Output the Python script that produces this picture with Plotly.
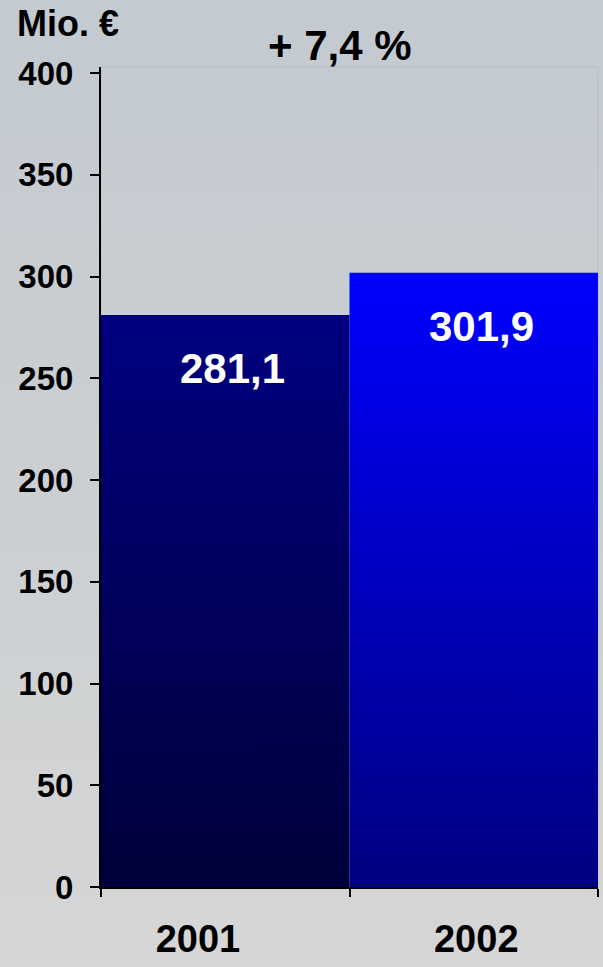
import base64
import plotly.graph_objects as go

# ---- data ----
years = ["2001", "2002"]
values = [281.1, 301.9]
value_labels = ["281,1", "301,9"]
growth_label = "+ 7,4 %"
unit_label = "Mio. €"
y_ticks = [0, 50, 100, 150, 200, 250, 300, 350, 400]

# ---- style ----
bar_colors = [("#00003a", "#000080"), ("#000080", "#0000ff")]
year_label_pos = [-0.11, 1.01]
FONT = "Liberation Sans"
W, H = 603, 967
ML, MR, MT, MB = 101, 5, 67, 80

fig = go.Figure()

for i, (val, (c_bot, c_top)) in enumerate(zip(values, bar_colors)):
    fig.add_trace(go.Scatter(
        x=[i - 0.5, i + 0.5, i + 0.5, i - 0.5, i - 0.5],
        y=[0, 0, val, val, 0],
        fill="toself", mode="none",
        fillgradient=dict(type="vertical", colorscale=[[0, c_bot], [1, c_top]]),
        hoverinfo="skip", showlegend=False,
    ))
    fig.add_annotation(
        x=i + 0.03, y=val, xref="x", yref="y", text=value_labels[i],
        showarrow=False, yanchor="top", yshift=-28,
        font=dict(family=FONT, size=42, color="white", weight="bold"),
    )

# background gradient
svg = (
    f'<svg xmlns="http://www.w3.org/2000/svg" width="{W}" height="{H}">'
    '<defs><linearGradient id="g" x1="0" y1="0" x2="0" y2="1">'
    '<stop offset="0" stop-color="#c3cad0"/><stop offset="0.5" stop-color="#cbcfd2"/>'
    '<stop offset="1" stop-color="#d6d6d6"/></linearGradient></defs>'
    f'<rect width="{W}" height="{H}" fill="url(#g)"/></svg>'
)
src = "data:image/svg+xml;base64," + base64.b64encode(svg.encode()).decode()
pw, ph = W - ML - MR, H - MT - MB
fig.add_layout_image(
    source=src, xref="paper", yref="paper",
    x=-ML / pw, y=1 + MT / ph, sizex=W / pw, sizey=H / ph,
    xanchor="left", yanchor="top", sizing="stretch", layer="below",
)

fig.add_shape(type="rect", xref="paper", yref="paper", x0=0, x1=1, y0=0, y1=1,
              line=dict(color="#b9bec2", width=1), layer="below")

fig.add_annotation(
    x=-ML / pw + 15 / pw, y=1 + (MT - 1) / ph, xref="paper", yref="paper",
    text=unit_label, showarrow=False, xanchor="left", yanchor="top",
    font=dict(family=FONT, size=36, color="black", weight="bold"),
)
fig.add_annotation(
    x=(340 - ML) / pw, y=1 + (MT - 20) / ph, xref="paper", yref="paper",
    text=growth_label, showarrow=False, xanchor="center", yanchor="top",
    font=dict(family=FONT, size=42, color="black", weight="bold"),
)

fig.update_layout(
    width=W, height=H,
    margin=dict(l=ML, r=MR, t=MT, b=MB, autoexpand=False),
    paper_bgcolor="#cdd0d3", plot_bgcolor="rgba(0,0,0,0)",
    showlegend=False,
    xaxis=dict(
        range=[-0.5, 1.5], tickvals=year_label_pos, ticktext=years,
        showgrid=False, zeroline=False, showline=True, linecolor="black", linewidth=2,
        ticks="", ticklabelstandoff=17, automargin=False,
        minor=dict(ticks="outside", tick0=0.5, dtick=1, ticklen=8, tickwidth=2,
                   tickcolor="black", showgrid=False),
        tickfont=dict(family=FONT, size=38, color="black", weight="bold"),
        fixedrange=True,
    ),
    yaxis=dict(
        range=[0, 403], tickvals=y_ticks,
        showgrid=False, zeroline=False, showline=True, linecolor="black", linewidth=2,
        ticks="outside", ticklen=9, tickwidth=2, tickcolor="black",
        ticklabelstandoff=10, automargin=False,
        tickfont=dict(family=FONT, size=33, color="black", weight="bold"),
        fixedrange=True,
    ),
)

fig.write_html("out.html", config={"displayModeBar": False},
               post_script="document.body.style.margin='0';")
